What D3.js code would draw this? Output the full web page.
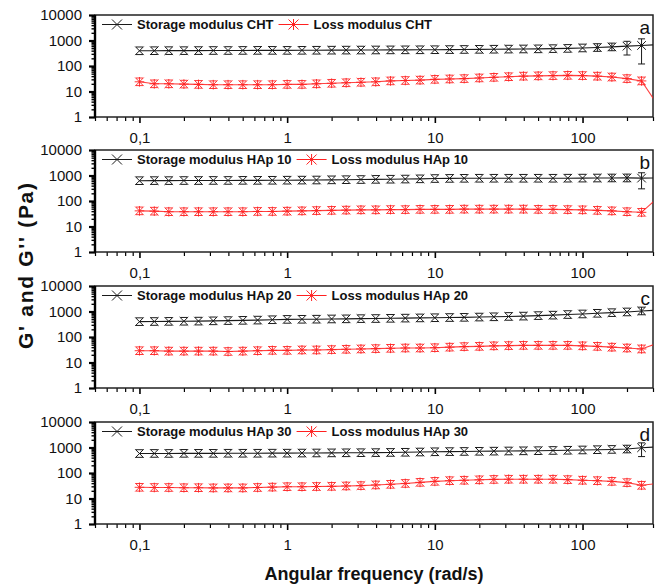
<!DOCTYPE html>
<html><head><meta charset="utf-8">
<script src="https://cdn.jsdelivr.net/npm/d3@7"></script>
<style>
html,body{margin:0;padding:0;background:#fff;}
svg{display:block;font-family:"Liberation Sans",Arial,sans-serif;}
</style></head>
<body><svg id="chart" width="659" height="586"></svg>
<script>
// ---- data ----
const freq = [0.1,0.126,0.158,0.2,0.251,0.316,0.398,0.501,0.631,0.794,
  1,1.26,1.58,2,2.51,3.16,3.98,5.01,6.31,7.94,
  10,12.6,15.8,20,25.1,31.6,39.8,50.1,63.1,79.4,
  100,126,158,200,251,316];
const panelLabels = ["a","b","c","d"];
const sampleNames = ["CHT","HAp 10","HAp 20","HAp 30"];
const storageCHT = [395,398,400,400,402,405,405,408,410,410,410,412,415,418,420,422,425,428,430,432,435,440,445,450,455,460,465,470,480,490,510,530,560,600,640,680];
const lossCHT = [24,20,20,19.5,19,18.5,18.5,18.5,18.5,18.5,19,19,20,21,22,23,24,26,27,28,30,31,32,34,36,38,40,41,42,43,42,40,37,32,26,3.5];
const storageHAp10 = [625,630,630,635,635,640,640,645,645,650,655,660,665,675,685,695,705,715,725,740,760,770,775,780,780,780,780,780,780,785,790,795,800,805,790,800];
const lossHAp10 = [41,40,38,38,38,38,38,38,39,39,40,41,42,43,44,45,45,46,46,47,47,47,48,48,48,48,48,47,47,46,45,43,41,38,36,120];
const storageHAp20 = [400,405,410,415,420,430,440,450,460,475,490,495,500,510,515,525,530,540,550,560,570,580,590,605,620,640,660,690,720,760,800,850,900,960,1050,1120];
const lossHAp20 = [29,29,28,28,28,28,27,28,29,30,30,31,31,32,33,34,35,36,37,37,38,40,42,43,45,46,47,47,47,47,45,43,40,37,34,55];
const storageHAp30 = [580,585,585,590,590,590,595,595,595,600,600,605,610,615,620,625,630,640,650,665,680,690,700,710,720,730,740,750,765,780,800,820,840,870,980,1050];
const lossHAp30 = [27.5,27,27,26.5,26.5,26,26,26,27,28,29,29,29.5,30,31,32,34,36,39,43,47,50,52,54,56,57,57,57,57,55,52,50,47,42,33,38];
// standard deviation of storage modulus (only visible at the highest frequencies)
const storageErrCHT   = [0,0,0,0,0,0,0,0,0,0,0,0,0,0,0,0,0,0,0,0,0,0,0,0,0,0,0,0,0,0,0,40,60,330,520,0];
const storageErrHAp10 = [0,0,0,0,0,0,0,0,0,0,0,0,0,0,0,0,0,0,0,0,0,0,0,0,0,0,0,0,0,0,0,0,60,240,490,0];
const storageErrHAp20 = [0,0,0,0,0,0,0,0,0,0,0,0,0,0,0,0,0,0,0,0,0,0,0,0,0,0,0,0,0,0,0,0,0,0,60,0];
const storageErrHAp30 = [0,0,0,0,0,0,0,0,0,0,0,0,0,0,0,0,0,0,0,0,0,0,0,0,0,0,0,0,0,0,0,0,0,100,540,0];
const yTicks = [1,10,100,1000,10000];
const xTicks = [0.1,1,10,100];
const xTickText = ["0,1","1","10","100"];
const xDomain = [0.05,300];
const yDomain = [1,10000];

const panels = [
  {storage:storageCHT, loss:lossCHT, err:storageErrCHT},
  {storage:storageHAp10, loss:lossHAp10, err:storageErrHAp10},
  {storage:storageHAp20, loss:lossHAp20, err:storageErrHAp20},
  {storage:storageHAp30, loss:lossHAp30, err:storageErrHAp30}
];

// ---- layout ----
const svg = d3.select("#chart");
const L = 95, R = 653, H = 102;
const tops = [15,150,286,422];
const x = d3.scaleLog().domain(xDomain).range([L,R]);
const black = "#1a1a1a", red = "#ff2020";

function minorVals(lo, hi){
  const out=[];
  for(let e=-3;e<=4;e++){for(let m=1;m<10;m++){const v=m*Math.pow(10,e); if(v>=lo*0.999&&v<=hi*1.001) out.push(v);}}
  return out;
}
const xMinor = minorVals(xDomain[0],xDomain[1]).filter(v=>!xTicks.includes(v));
const yMinor = minorVals(yDomain[0],yDomain[1]).filter(v=>!yTicks.includes(v));

const defs = svg.append("defs");

panels.forEach((p,i)=>{
  const top = tops[i];
  const y = d3.scaleLog().domain(yDomain).range([top+H, top]);
  const g = svg.append("g");
  defs.append("clipPath").attr("id","clip"+i).append("rect")
    .attr("x",L).attr("y",top).attr("width",R-L).attr("height",H);

  // axes
  const yAx = g.append("g").attr("transform",`translate(${L},0)`)
    .call(d3.axisLeft(y).tickValues(yTicks).tickSize(6).tickPadding(7).tickFormat(d3.format("d")));
  yAx.select(".domain").remove();
  yAx.selectAll("line").attr("stroke","#000").attr("stroke-width",2.2);
  yAx.selectAll("text").attr("font-size",15).attr("fill","#111").attr("font-family",'"Liberation Sans",Arial,sans-serif');
  const yAxm = g.append("g").attr("transform",`translate(${L},0)`)
    .call(d3.axisLeft(y).tickValues(yMinor).tickSize(3.5).tickFormat(""));
  yAxm.select(".domain").remove();
  yAxm.selectAll("line").attr("stroke","#000").attr("stroke-width",1.4);

  const xAx = g.append("g").attr("transform",`translate(0,${top+H})`)
    .call(d3.axisBottom(x).tickValues(xTicks).tickSize(6).tickPadding(9).tickFormat((d,k)=>xTickText[k]));
  xAx.select(".domain").remove();
  xAx.selectAll("line").attr("stroke","#000").attr("stroke-width",1.6);
  xAx.selectAll("text").attr("font-size",15).attr("fill","#111").attr("font-family",'"Liberation Sans",Arial,sans-serif');
  const xAxm = g.append("g").attr("transform",`translate(0,${top+H})`)
    .call(d3.axisBottom(x).tickValues(xMinor).tickSize(4).tickFormat(""));
  xAxm.select(".domain").remove();
  xAxm.selectAll("line").attr("stroke","#000").attr("stroke-width",1.2);

  // frame
  g.append("rect").attr("x",L).attr("y",top).attr("width",R-L).attr("height",H)
    .attr("fill","none").attr("stroke","#222").attr("stroke-width",1.5);
  g.append("line").attr("x1",L).attr("x2",L).attr("y1",top).attr("y2",top+H+0.75)
    .attr("stroke","#000").attr("stroke-width",2.4);

  const plot = g.append("g").attr("clip-path",`url(#clip${i})`);
  const line = d3.line().x((d,k)=>x(freq[k])).y(d=>y(d));

  // storage
  plot.append("path").datum(p.storage).attr("d",line)
    .attr("fill","none").attr("stroke",black).attr("stroke-width",1.1);
  // loss
  plot.append("path").datum(p.loss).attr("d",line)
    .attr("fill","none").attr("stroke",red).attr("stroke-width",1.1).attr("stroke-opacity",0.85);

  const s = 4.3;
  const vis = freq.map((f,k)=>k).filter(k=>freq[k]<=xDomain[1]);
  // storage markers with error bars
  vis.forEach(k=>{
    const cx = x(freq[k]), cy = y(p.storage[k]), e = p.err[k];
    const yt = Math.min(y(p.storage[k]+e), cy-s+0.5);
    const yb = e>0 ? Math.max(y(Math.max(p.storage[k]-e,1e-3)), cy+s-0.5) : cy+s-0.5;
    const m = plot.append("g").attr("stroke",black).attr("stroke-width",1).attr("fill","none");
    m.append("path").attr("d",`M${cx-s},${cy-s}L${cx+s},${cy+s}M${cx-s},${cy+s}L${cx+s},${cy-s}`);
    m.append("path").attr("d",`M${cx-3.5},${yt}H${cx+3.5}M${cx-3.5},${yb}H${cx+3.5}`);
    if(e>0) m.append("path").attr("d",`M${cx},${yt}V${yb}`);
  });
  // loss markers
  vis.forEach(k=>{
    const cx = x(freq[k]), cy = y(p.loss[k]);
    const m = plot.append("g").attr("stroke",red).attr("stroke-width",1).attr("fill","none").attr("stroke-opacity",0.9);
    m.append("path").attr("d",`M${cx-s},${cy-s}L${cx+s},${cy+s}M${cx-s},${cy+s}L${cx+s},${cy-s}M${cx},${cy-s-0.5}V${cy+s+0.5}M${cx-s-0.5},${cy}H${cx+s+0.5}`);
    m.append("path").attr("d",`M${cx-3.5},${cy-s+0.5}H${cx+3.5}M${cx-3.5},${cy+s-0.5}H${cx+3.5}`);
  });

  // legend
  const ly = top+9.5, lb = top+14;
  const lg = g.append("g");
  lg.append("line").attr("x1",102).attr("x2",132).attr("y1",ly).attr("y2",ly).attr("stroke",black).attr("stroke-width",1);
  lg.append("path").attr("d",`M${117-5},${ly-5}L${117+5},${ly+5}M${117-5},${ly+5}L${117+5},${ly-5}`).attr("stroke",black).attr("stroke-width",1);
  const t1 = lg.append("text").attr("x",137).attr("y",lb).attr("font-size",13).attr("font-weight","bold").attr("fill","#111")
    .text("Storage modulus " + sampleNames[i]);
  const x2 = 137 + t1.node().getComputedTextLength() + 5;
  lg.append("line").attr("x1",x2).attr("x2",x2+30).attr("y1",ly).attr("y2",ly).attr("stroke",red).attr("stroke-width",1);
  const c2 = x2+15;
  lg.append("path").attr("d",`M${c2-5},${ly-5}L${c2+5},${ly+5}M${c2-5},${ly+5}L${c2+5},${ly-5}M${c2},${ly-5.5}V${ly+5.5}M${c2-5},${ly}H${c2+5}`)
    .attr("stroke",red).attr("stroke-width",1);
  lg.append("text").attr("x",x2+35).attr("y",lb).attr("font-size",13).attr("font-weight","bold").attr("fill","#111")
    .text("Loss modulus " + sampleNames[i]);

  // panel letter
  g.append("text").attr("x",650).attr("y",top+19).attr("text-anchor","end").attr("font-size",19).attr("fill","#111")
    .text(panelLabels[i]);
});

// axis titles
svg.append("text").attr("x",(L+R)/2).attr("y",580).attr("text-anchor","middle")
  .attr("font-size",18).attr("font-weight","bold").attr("fill","#111").text("Angular frequency (rad/s)");
svg.append("text").attr("transform","translate(33,266) rotate(-90)").attr("text-anchor","middle")
  .attr("font-size",21).attr("font-weight","bold").attr("fill","#111")
  .attr("textLength",166).attr("lengthAdjust","spacing").text("G' and G'' (Pa)");
</script></body></html>
